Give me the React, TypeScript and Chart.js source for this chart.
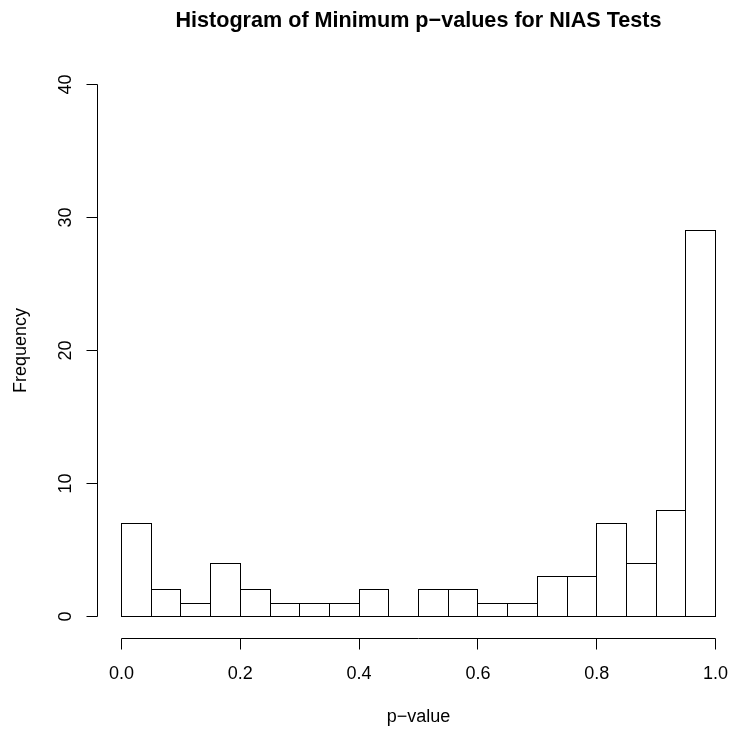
import { useEffect, useRef } from "react";
import { Chart, registerables } from "chart.js";

Chart.register(...registerables);

// Histogram bins (breaks every 0.05) and the count in each bin
const binEdges = [
  0, 0.05, 0.1, 0.15, 0.2, 0.25, 0.3, 0.35, 0.4, 0.45, 0.5,
  0.55, 0.6, 0.65, 0.7, 0.75, 0.8, 0.85, 0.9, 0.95, 1.0,
];
const binCounts = [7, 2, 1, 4, 2, 1, 1, 1, 2, 0, 2, 2, 1, 1, 3, 3, 7, 4, 8, 29];

// Axis ticks
const xTickValues = [0, 0.2, 0.4, 0.6, 0.8, 1.0];
const xTickLabels = ["0.0", "0.2", "0.4", "0.6", "0.8", "1.0"];
const yTickValues = [0, 10, 20, 30, 40];
const yTickLabels = ["0", "10", "20", "30", "40"];

const titleText = "Histogram of Minimum p\u2212values for NIAS Tests";
const xTitle = "p\u2212value";
const yTitle = "Frequency";

const FONT = '"Liberation Sans", Arial, Helvetica, sans-serif';
const AXIS_PAD = 0.04; // axes sit 4% of the data range outside the data
const TICK_LEN = 11;

// snap to a pixel centre so 1px lines stay crisp; the small epsilon keeps
// shared bar edges that differ only by float noise on the same pixel
const snap = (v: number) => Math.round(v - 0.5 + 1e-4) + 0.5;

const histogramFrame = {
  id: "histogramFrame",
  afterDatasetsDraw(chart: any) {
    const ctx: CanvasRenderingContext2D = chart.ctx;
    const xs = chart.scales.x;
    const ys = chart.scales.y;
    const meta = chart.getDatasetMeta(0);

    ctx.save();
    ctx.strokeStyle = "#000";
    ctx.lineWidth = 1;

    // bar outlines (shared edges drawn once, like rect())
    meta.data.forEach((el: any) => {
      const p = el.getProps(["x", "y", "base", "width"], true);
      const l = snap(p.x - p.width / 2);
      const r = snap(p.x + p.width / 2);
      const t = snap(Math.min(p.y, p.base));
      const b = snap(Math.max(p.y, p.base));
      ctx.strokeRect(l, t, r - l, b - t);
    });

    const xMin = xs.min, xMax = xs.max;
    const yMin = ys.min, yMax = ys.max;
    const yAxisX = Math.floor(xs.getPixelForValue(xMin - AXIS_PAD * (xMax - xMin))) + 0.5;
    const xAxisY = Math.round(ys.getPixelForValue(yMin - AXIS_PAD * (yMax - yMin))) + 0.5;

    // x axis
    const x0 = snap(xs.getPixelForValue(xTickValues[0]));
    const x1 = snap(xs.getPixelForValue(xTickValues[xTickValues.length - 1]));
    ctx.beginPath();
    ctx.moveTo(x0, xAxisY);
    ctx.lineTo(x1, xAxisY);
    xTickValues.forEach((v) => {
      const px = snap(xs.getPixelForValue(v));
      ctx.moveTo(px, xAxisY);
      ctx.lineTo(px, xAxisY + TICK_LEN);
    });
    ctx.stroke();

    // y axis
    const y0 = snap(ys.getPixelForValue(yTickValues[0]));
    const y1 = snap(ys.getPixelForValue(yTickValues[yTickValues.length - 1]));
    ctx.beginPath();
    ctx.moveTo(yAxisX, y0);
    ctx.lineTo(yAxisX, y1);
    yTickValues.forEach((v) => {
      const py = snap(ys.getPixelForValue(v));
      ctx.moveTo(yAxisX, py);
      ctx.lineTo(yAxisX - TICK_LEN, py);
    });
    ctx.stroke();

    ctx.fillStyle = "#000";
    ctx.font = `18px ${FONT}`;
    ctx.textAlign = "center";
    ctx.textBaseline = "alphabetic";

    // x tick labels
    xTickValues.forEach((v, i) => {
      ctx.fillText(xTickLabels[i], xs.getPixelForValue(v), xAxisY + 40.5);
    });

    // y tick labels, parallel to the axis
    yTickValues.forEach((v, i) => {
      ctx.save();
      ctx.translate(yAxisX - 26.5, ys.getPixelForValue(v));
      ctx.rotate(-Math.PI / 2);
      ctx.fillText(yTickLabels[i], 0, 0);
      ctx.restore();
    });

    // axis titles and main title, centred on the plot region
    const plotLeft = xs.getPixelForValue(xMin - AXIS_PAD * (xMax - xMin));
    const plotRight = xs.getPixelForValue(xMax + AXIS_PAD * (xMax - xMin));
    const plotTop = ys.getPixelForValue(yMax + AXIS_PAD * (yMax - yMin));
    const plotBottom = ys.getPixelForValue(yMin - AXIS_PAD * (yMax - yMin));
    const cx = (plotLeft + plotRight) / 2;
    const cy = (plotTop + plotBottom) / 2;

    ctx.fillText(xTitle, cx, xAxisY + 83);

    ctx.save();
    ctx.translate(26, cy);
    ctx.rotate(-Math.PI / 2);
    ctx.fillText(yTitle, 0, 0);
    ctx.restore();

    ctx.font = `bold 21.6px ${FONT}`;
    ctx.fillText(titleText, cx, 27);

    ctx.restore();
  },
};

export default function App() {
  const canvasRef = useRef<HTMLCanvasElement | null>(null);

  useEffect(() => {
    const canvas = canvasRef.current;
    if (!canvas) return;

    const points = binCounts.map((c, i) => ({
      x: (binEdges[i] + binEdges[i + 1]) / 2,
      y: c,
    }));

    const chart = new Chart(canvas, {
      type: "bar",
      data: {
        datasets: [
          {
            data: points as any,
            backgroundColor: "#ffffff",
            borderWidth: 0,
            barPercentage: 1,
            categoryPercentage: 1,
          },
        ],
      },
      options: {
        responsive: false,
        animation: false,
        events: [],
        layout: {
          padding: { left: 121.5, right: 14.5, top: 84.5, bottom: 114.5 },
        },
        plugins: {
          legend: { display: false },
          title: { display: false },
          tooltip: { enabled: false },
        },
        scales: {
          x: {
            type: "linear",
            min: binEdges[0],
            max: binEdges[binEdges.length - 1],
            offset: false,
            display: false,
          },
          y: {
            type: "linear",
            min: yTickValues[0],
            max: yTickValues[yTickValues.length - 1],
            display: false,
          },
        },
      },
      plugins: [histogramFrame],
    });

    return () => chart.destroy();
  }, []);

  return (
    <div
      style={{
        position: "fixed",
        left: 0,
        top: 0,
        width: 730,
        height: 731,
        background: "#ffffff",
      }}
    >
      <canvas ref={canvasRef} width={730} height={731} style={{ display: "block" }} />
    </div>
  );
}
